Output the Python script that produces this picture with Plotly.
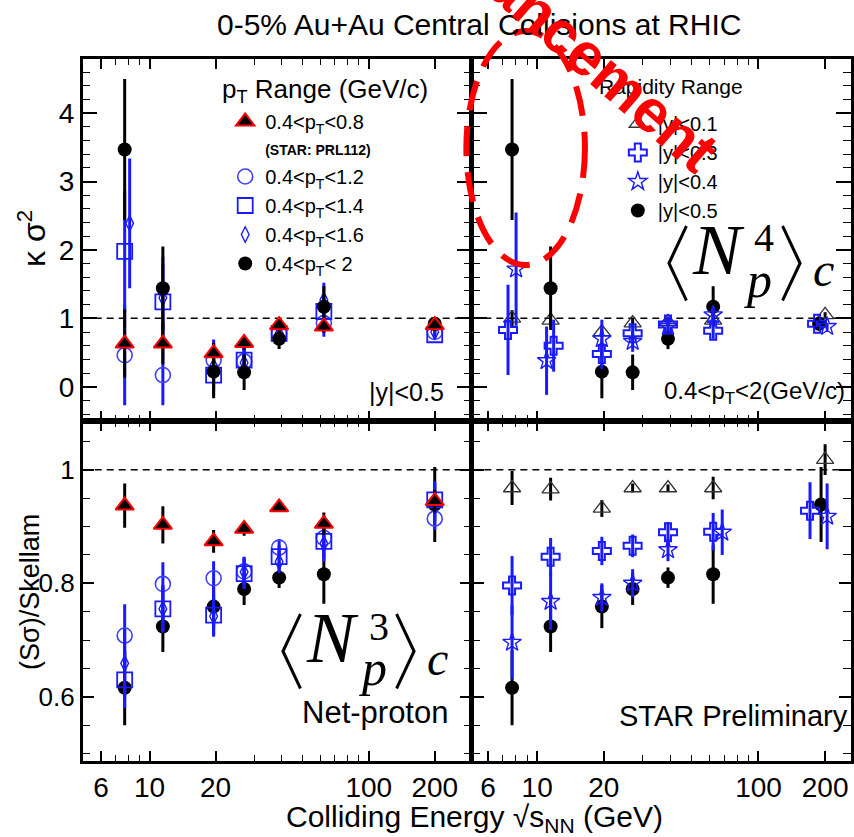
import plotly.graph_objects as go

# ---------------- data ----------------
energy = [7.7, 11.5, 19.6, 27, 39, 62.4, 200]

# kappa*sigma^2 (top panels)
ks_pt08 = [0.63, 0.63, 0.49, 0.64, 0.90, 0.88, 0.90]
ks_pt08_err = [0.50, 0.30, 0.15, 0.10, 0.08, 0.09, 0.05]
ks_pt12 = [0.46, 0.17, 0.39, 0.37, 0.78, 0.93, 0.80]
ks_pt12_err = [0.73, 0.44, 0.30, 0.20, 0.10, 0.20, 0.05]
ks_pt14 = [1.98, 1.24, 0.17, 0.39, 0.78, 1.10, 0.76]
ks_pt14_err = [0.89, 0.55, 0.30, 0.20, 0.10, 0.25, 0.05]
ks_pt16 = [2.39, 1.30, 0.30, 0.35, 0.78, 1.27, 0.80]
ks_pt16_err = [0.95, 0.60, 0.35, 0.22, 0.12, 0.25, 0.06]
ks_pt20 = [3.47, 1.44, 0.22, 0.21, 0.70, 1.17, 0.92]
ks_pt20_err = [1.03, 0.61, 0.39, 0.26, 0.15, 0.30, 0.10]

ks_y01 = [1.00, 0.97, 0.80, 0.93, 0.95, 0.97, 1.05]
ks_y01_err = [0.12, 0.10, 0.08, 0.06, 0.05, 0.06, 0.04]
ks_y03 = [0.83, 0.60, 0.48, 0.78, 0.91, 0.82, 0.92]
ks_y03_err = [0.66, 0.38, 0.22, 0.12, 0.08, 0.12, 0.05]
ks_y04 = [1.72, 0.38, 0.70, 0.66, 0.88, 1.05, 0.88]
ks_y04_err = [0.83, 0.50, 0.28, 0.15, 0.08, 0.10, 0.05]

# S*sigma / Skellam (bottom panels)
ss_pt08 = [0.937, 0.903, 0.874, 0.896, 0.934, 0.905, 0.945]
ss_pt08_err = [0.039, 0.033, 0.020, 0.012, 0.006, 0.020, 0.020]
ss_pt12 = [0.708, 0.799, 0.809, 0.821, 0.863, 0.880, 0.914]
ss_pt12_err = [0.055, 0.038, 0.030, 0.025, 0.015, 0.020, 0.020]
ss_pt14 = [0.630, 0.755, 0.744, 0.817, 0.847, 0.874, 0.947]
ss_pt14_err = [0.050, 0.040, 0.035, 0.027, 0.020, 0.030, 0.030]
ss_pt16 = [0.659, 0.755, 0.742, 0.820, 0.838, 0.870, 0.945]
ss_pt16_err = [0.060, 0.042, 0.036, 0.027, 0.020, 0.032, 0.035]
ss_pt20 = [0.616, 0.724, 0.759, 0.790, 0.810, 0.816, 0.939]
ss_pt20_err = [0.066, 0.045, 0.038, 0.028, 0.018, 0.052, 0.066]

ss_y01 = [0.968, 0.966, 0.932, 0.968, 0.968, 0.968, 1.018]
ss_y01_err = [0.030, 0.020, 0.015, 0.008, 0.006, 0.020, 0.027]
ss_y03 = [0.796, 0.847, 0.857, 0.866, 0.890, 0.891, 0.928]
ss_y03_err = [0.052, 0.033, 0.025, 0.020, 0.018, 0.033, 0.050]
ss_y04 = [0.696, 0.768, 0.775, 0.800, 0.859, 0.890, 0.918]
ss_y04_err = [0.065, 0.050, 0.025, 0.025, 0.020, 0.040, 0.058]

x_tickvals = [6, 10, 20, 100, 200]
x_ticktext = ["6", "10", "20", "100", "200"]
x_minor = [5, 7, 8, 9, 30, 40, 50, 60, 70, 80, 90, 300]

# ---------------- style ----------------
W, H = 854, 837
FONT = "Arial, Liberation Sans, sans-serif"
SERIF = "Liberation Serif, DejaVu Serif, serif"
BLUE = "#1a1aff"

# horizontal dodge (pixels) used to separate overlapping points
dodge = {
    "tl_pt16": [5, 0, 0, 0, 0, 0, 0],
    "tr_y03": [-4, 3, 0, 0, 0, 0, -8],
    "tr_y04": [4, -4, 0, 0, 0, 0, 2],
    "tr_pt20": [0, 0, 0, 0, 0, 0, -6],
    "br_y03": [0, 0, 0, 0, 0, 0, -15],
    "br_y04": [0, 0, 0, 0, 0, 9, 2],
    "br_pt20": [0, 0, 0, 0, 0, 0, -4],
}
ZERO = [0] * 7


def shifted(xs, px):
    return [x * 10 ** (p / 220.0) for x, p in zip(xs, px)]


def px(x):
    return x / W


def py(y):
    return 1 - y / H


fig = go.Figure()

styles = {
    "pt08": dict(marker=dict(symbol="triangle-up", size=16, color="black",
                             line=dict(color="red", width=2)), ecolor="black"),
    "pt12": dict(marker=dict(symbol="circle-open", size=15, color="#4040ff",
                             line=dict(width=1.6)), ecolor=BLUE),
    "pt14": dict(marker=dict(symbol="square-open", size=15, color=BLUE,
                             line=dict(width=1.8)), ecolor=BLUE),
    "pt16": dict(marker=dict(symbol="diamond-tall-open", size=11, color=BLUE,
                             line=dict(width=1.4)), ecolor=BLUE),
    "pt20": dict(marker=dict(symbol="circle", size=14, color="black"), ecolor="black"),
    "y01": dict(marker=dict(symbol="triangle-up-open", size=15, color="#333333",
                            line=dict(width=1.3)), ecolor="black"),
    "y03": dict(marker=dict(symbol="cross-open", size=15, color=BLUE,
                            line=dict(width=2)), ecolor=BLUE),
    "y04": dict(marker=dict(symbol="star-open", size=14, color=BLUE,
                            line=dict(width=1.4)), ecolor=BLUE),
}


def add(key, y, err, xa, ya, name=None, legend=None, rank=None, shift=ZERO):
    st = styles[key]
    fig.add_trace(go.Scatter(
        x=shifted(energy, shift), y=y, mode="markers", name=name or key,
        marker=st["marker"],
        error_y=dict(type="data", array=err, color=st["ecolor"], thickness=3, width=0),
        xaxis=xa, yaxis=ya, showlegend=legend is not None,
        legend=legend or "legend", legendrank=rank or 1000, cliponaxis=False,
    ))


LT = "&lt;"
# top-left: pT ranges
add("pt12", ks_pt12, ks_pt12_err, "x", "y", f"0.4{LT}p<sub>T</sub>{LT}1.2", "legend", 2)
add("pt14", ks_pt14, ks_pt14_err, "x", "y", f"0.4{LT}p<sub>T</sub>{LT}1.4", "legend", 3)
add("pt16", ks_pt16, ks_pt16_err, "x", "y", f"0.4{LT}p<sub>T</sub>{LT}1.6", "legend", 4,
    dodge["tl_pt16"])
add("pt20", ks_pt20, ks_pt20_err, "x", "y", f"0.4{LT}p<sub>T</sub>{LT} 2", "legend", 5)
add("pt08", ks_pt08, ks_pt08_err, "x", "y",
    f"0.4{LT}p<sub>T</sub>{LT}0.8<br><span style='font-size:14px;font-weight:bold'>(STAR: PRL112)</span>",
    "legend", 1)

# top-right: rapidity ranges
add("y01", ks_y01, ks_y01_err, "x2", "y2", f"|y|{LT}0.1", "legend2", 1)
add("pt20", ks_pt20, ks_pt20_err, "x2", "y2", f"|y|{LT}0.5", "legend2", 4, dodge["tr_pt20"])
add("y03", ks_y03, ks_y03_err, "x2", "y2", f"|y|{LT}0.3", "legend2", 2, dodge["tr_y03"])
add("y04", ks_y04, ks_y04_err, "x2", "y2", f"|y|{LT}0.4", "legend2", 3, dodge["tr_y04"])

# bottom-left
add("pt20", ss_pt20, ss_pt20_err, "x3", "y3")
add("pt12", ss_pt12, ss_pt12_err, "x3", "y3")
add("pt14", ss_pt14, ss_pt14_err, "x3", "y3")
add("pt16", ss_pt16, ss_pt16_err, "x3", "y3")
add("pt08", ss_pt08, ss_pt08_err, "x3", "y3")

# bottom-right
add("y01", ss_y01, ss_y01_err, "x4", "y4")
add("pt20", ss_pt20, ss_pt20_err, "x4", "y4", shift=dodge["br_pt20"])
add("y03", ss_y03, ss_y03_err, "x4", "y4", shift=dodge["br_y03"])
add("y04", ss_y04, ss_y04_err, "x4", "y4", shift=dodge["br_y04"])

# ---------------- axes ----------------
axis_common = dict(showline=True, linecolor="black", linewidth=2.5, mirror="ticks",
                   ticks="inside", tickcolor="black", tickwidth=1.5, showgrid=False,
                   zeroline=False, tickfont=dict(family=FONT, size=28, color="black"))

xl_dom = [px(83), px(473)]
xr_dom = [px(474), 1.0]
yt_dom = [py(421), py(59)]
yb_dom = [py(761), py(421)]
xl_range = [0.695, 2.468]
xr_range = [0.707, 2.418]


def xaxis(dom, rng, anchor, labels):
    return dict(axis_common, type="log", domain=dom, range=rng, anchor=anchor,
                tickmode="array", tickvals=x_tickvals, ticktext=x_ticktext, ticklen=10,
                showticklabels=labels,
                minor=dict(tickmode="array", tickvals=x_minor, ticklen=6, ticks="inside",
                           tickcolor="black", tickwidth=1.2))


def yaxis_top(dom, anchor, labels):
    return dict(axis_common, domain=dom, range=[-0.502, 4.794], anchor=anchor,
                tickmode="array", tickvals=[0, 1, 2, 3, 4], ticklen=15,
                showticklabels=labels,
                minor=dict(tickmode="linear", tick0=0, dtick=0.2, ticklen=8,
                           ticks="inside", tickcolor="black", tickwidth=1.2))


def yaxis_bot(dom, anchor, labels):
    return dict(axis_common, domain=dom, range=[0.487, 1.086], anchor=anchor,
                tickmode="array", tickvals=[0.6, 0.8, 1.0], ticktext=["0.6", "0.8", "1"],
                ticklen=12, showticklabels=labels,
                tickfont=dict(family=FONT, size=26, color="black"),
                minor=dict(tickmode="linear", tick0=0, dtick=0.05, ticklen=8,
                           ticks="inside", tickcolor="black", tickwidth=1.2))


fig.update_layout(
    xaxis=xaxis(xl_dom, xl_range, "y", False),
    xaxis2=xaxis(xr_dom, xr_range, "y2", False),
    xaxis3=xaxis(xl_dom, xl_range, "y3", True),
    xaxis4=xaxis(xr_dom, xr_range, "y4", True),
    yaxis=yaxis_top(yt_dom, "x", True),
    yaxis2=yaxis_top(yt_dom, "x2", False),
    yaxis3=yaxis_bot(yb_dom, "x3", True),
    yaxis4=yaxis_bot(yb_dom, "x4", False),
)

# dashed reference lines at 1
for xr, yr in [("x", "y"), ("x2", "y2"), ("x3", "y3"), ("x4", "y4")]:
    fig.add_shape(type="line", xref=f"{xr} domain", yref=yr, x0=0, x1=1, y0=1, y1=1,
                  line=dict(color="black", width=1.5, dash="7px,5px"), layer="below")

# ---------------- legends ----------------
fig.update_layout(
    legend=dict(x=px(226), y=py(102), xanchor="left", yanchor="top",
                bgcolor="rgba(0,0,0,0)", font=dict(family=FONT, size=20, color="black"),
                itemwidth=30, tracegroupgap=0, valign="top", traceorder="normal"),
    legend2=dict(x=px(620), y=py(104), xanchor="left", yanchor="top",
                 bgcolor="rgba(0,0,0,0)", font=dict(family=FONT, size=20, color="black"),
                 itemwidth=30, tracegroupgap=0, traceorder="normal"),
)

# ---------------- text ----------------
ann = []


def text(x, y, s, size, family=FONT, color="black", angle=0, xanchor="center",
         yanchor="middle", weight="normal"):
    ann.append(dict(x=px(x), y=py(y), xref="paper", yref="paper", text=s, showarrow=False,
                    font=dict(family=family, size=size, color=color, weight=weight),
                    textangle=angle, xanchor=xanchor, yanchor=yanchor))


text(481, 25, "0-5% Au+Au Central Collisions at RHIC", 30)
text(476, 818, "Colliding Energy √s<sub>NN</sub> (GeV)", 30)
text(32, 238, "κ σ<sup>2</sup>", 32, angle=-90)
text(30, 592, "(Sσ)/Skellam", 27, angle=-90)
text(326, 90, "p<sub>T</sub> Range (GeV/c)", 26)
text(673, 86, "Rapidity Range", 21)
text(448, 392, f"|y|{LT}0.5", 25, xanchor="right")
text(850, 392, f"0.4{LT}p<sub>T</sub>{LT}2(GeV/c)", 24, xanchor="right")
text(452, 712, "Net-proton", 31, xanchor="right")
text(853, 716, "STAR Preliminary", 29, xanchor="right")

BR = 86            # bracket font size
BR_OFF = 0.23 * BR  # the bracket glyphs sit off-centre in their advance box


def cumulant(x0, y0, order):
    # <N_p^order>_c built from pieces
    text(x0 - BR_OFF, y0 + 2, "〈", BR, family="DejaVu Sans, sans-serif")
    text(x0 + 43, y0 - 12, "<i>N</i>", 72, family=SERIF)
    text(x0 + 89, y0 - 24, order, 40, family=SERIF)
    text(x0 + 83, y0 + 18, "<i>p</i>", 50, family=SERIF)
    text(x0 + 118 + BR_OFF, y0 + 2, "〉", BR, family="DejaVu Sans, sans-serif")
    text(x0 + 148, y0 + 8, "<i>c</i>", 48, family=SERIF)


cumulant(678, 262, "4")
cumulant(291, 650, "3")

# red overlay annotation
text(562, 30, "Enhancement", 60, color="red", angle=41, weight="bold")
fig.update_layout(annotations=ann)
fig.add_shape(type="circle", xref="paper", yref="paper", x0=px(468), x1=px(587),
              y0=py(265), y1=py(31), line=dict(color="red", width=6, dash="30px,16px"),
              layer="above")

fig.update_layout(width=W, height=H, margin=dict(l=0, r=0, t=0, b=0),
                  paper_bgcolor="white", plot_bgcolor="white",
                  font=dict(family=FONT, color="black"))

fig.write_html("out.html", config={"displayModeBar": False},
               post_script="document.body.style.margin='0px';"
                           "document.body.style.overflow='hidden';")
